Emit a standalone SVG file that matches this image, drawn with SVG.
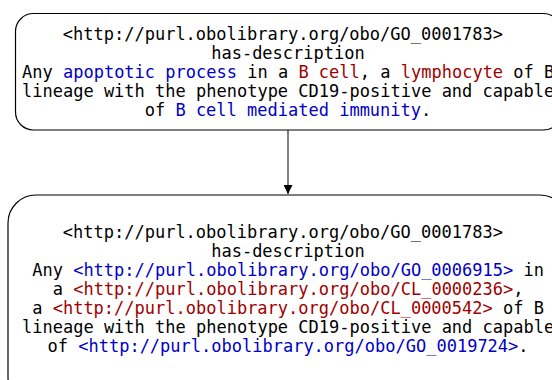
<svg xmlns="http://www.w3.org/2000/svg" width="552" height="380" viewBox="0 0 552 380">
<style>
text{font-family:"DejaVu Sans Mono","Liberation Mono",monospace;font-size:17px;fill:#000;white-space:pre}
.b{fill:#0000c8}
.r{fill:#a00000}
.box{fill:#fff;stroke:#000;stroke-width:1.2}
.edge{stroke:#555;stroke-width:1.5;fill:none}
</style>
<defs>
<marker id="ah" viewBox="0 0 10 10" refX="10" refY="5" markerWidth="9" markerHeight="9" markerUnits="userSpaceOnUse" orient="auto">
<path d="M0,0 L10,5 L0,10 z" fill="#000"/>
</marker>
</defs>
<rect width="552" height="380" fill="#fff"/>
<g id="connectors">
<line class="edge" x1="288" y1="130" x2="288" y2="194" marker-end="url(#ah)"/>
</g>
<g id="node1">
<rect class="box" x="15.5" y="13.5" width="546" height="116.5" rx="18" ry="18"/>
<text x="62.8" y="40">&lt;http://purl.obolibrary.org/obo/GO_0001783&gt;</text>
<text x="211.2" y="59">has-description</text>
<text x="22" y="78">Any <tspan class="b">apoptotic process</tspan> in a <tspan class="r">B cell</tspan>, a <tspan class="r">lymphocyte</tspan> of B</text>
<text x="22" y="97">lineage with the phenotype CD19-positive and capable</text>
<text x="144.7" y="116">of <tspan class="b">B cell mediated immunity</tspan>.</text>
</g>
<g id="node2">
<rect class="box" x="8" y="195" width="560" height="210" rx="28" ry="28"/>
<text x="62.8" y="238">&lt;http://purl.obolibrary.org/obo/GO_0001783&gt;</text>
<text x="211.2" y="257">has-description</text>
<text x="32.2" y="276">Any <tspan class="b">&lt;http://purl.obolibrary.org/obo/GO_0006915&gt;</tspan> in</text>
<text x="52.7" y="295">a <tspan class="r">&lt;http://purl.obolibrary.org/obo/CL_0000236&gt;</tspan>,</text>
<text x="32.2" y="314">a <tspan class="r">&lt;http://purl.obolibrary.org/obo/CL_0000542&gt;</tspan> of B</text>
<text x="22" y="333">lineage with the phenotype CD19-positive and capable</text>
<text x="47.5" y="352">of <tspan class="b">&lt;http://purl.obolibrary.org/obo/GO_0019724&gt;</tspan>.</text>
</g>
</svg>
